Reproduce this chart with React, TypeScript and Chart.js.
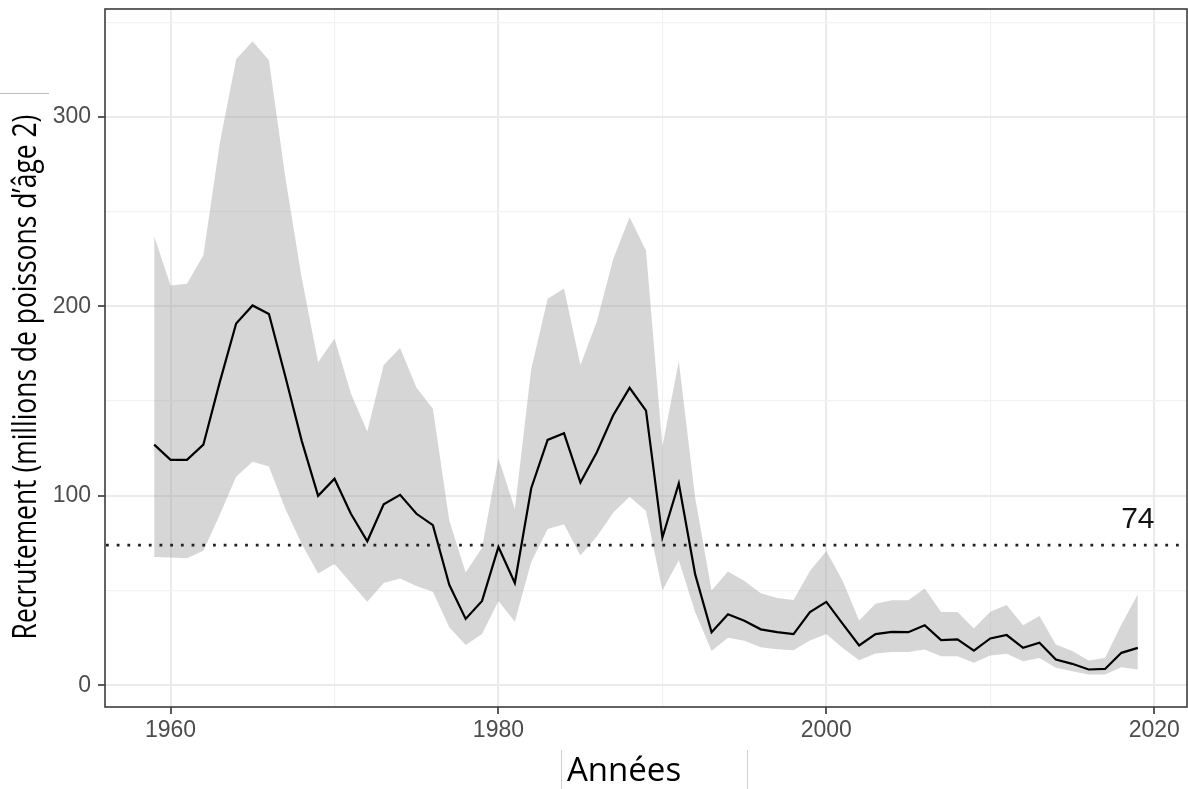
import React, { useEffect, useLayoutEffect, useRef, useState } from "react";
import { Chart, registerables } from "chart.js";

Chart.register(...registerables);

// ---------- Data ----------
const years: number[] = [
  1959, 1960, 1961, 1962, 1963, 1964, 1965, 1966, 1967, 1968,
  1969, 1970, 1971, 1972, 1973, 1974, 1975, 1976, 1977, 1978,
  1979, 1980, 1981, 1982, 1983, 1984, 1985, 1986, 1987, 1988,
  1989, 1990, 1991, 1992, 1993, 1994, 1995, 1996, 1997, 1998,
  1999, 2000, 2001, 2002, 2003, 2004, 2005, 2006, 2007, 2008,
  2009, 2010, 2011, 2012, 2013, 2014, 2015, 2016, 2017, 2018,
  2019,
];

const recruitment: number[] = [
  127, 119, 119, 127, 160, 191, 200.5, 196, 163, 129,
  100, 109, 90.5, 76, 95.5, 100.5, 90.5, 84.5, 53, 35,
  44.5, 73, 54, 104, 129.5, 133, 107, 123, 142.5, 157,
  145, 78, 106.5, 58.5, 28, 37.5, 34, 29.5, 28, 27,
  38.6, 44, 32.4, 21, 27, 28.2, 28, 31.7, 23.8, 24.2,
  18.3, 24.7, 26.5, 19.7, 22.4, 13.6, 11.3, 8.3, 8.6, 17.1,
  19.7,
];

const upper: number[] = [
  237, 211, 212, 227, 286, 330.5, 340, 330, 268, 215,
  170.5, 183, 154, 134, 169, 178, 157, 146, 87, 59.5,
  72.6, 120, 93, 167, 204, 209.5, 169, 192, 225, 247,
  229.5, 126, 171, 99, 50, 60, 55, 48.5, 46, 45,
  60.3, 70.9, 55, 34.2, 43, 44.8, 44.8, 51.1, 38.6, 38.6,
  30, 38.8, 42.3, 31.7, 36.5, 21.5, 18, 13, 14.4, 32,
  48,
];

const lower: number[] = [
  67.7, 67.4, 67, 71, 90, 110, 118, 115.5, 93, 74.5,
  59, 64, 54, 44, 54, 56.3, 52.4, 49.4, 30.6, 21.2,
  27.1, 44.4, 33.5, 65, 82.5, 85, 68.5, 78.5, 91, 99.5,
  92, 50, 66, 38.5, 18, 25, 23.5, 20, 19, 18.5,
  23.6, 27.1, 19.7, 13.2, 16.7, 17.5, 17.6, 18.9, 15.3, 15.3,
  11.8, 15.7, 16.6, 12.7, 14.4, 9.2, 7.4, 5.6, 5.6, 9.5,
  8.3,
];

const referenceLevel = 74;
const xMajorTicks: number[] = [1960, 1980, 2000, 2020];
const xMinorTicks: number[] = [1970, 1990, 2010];
const yMajorTicks: number[] = [0, 100, 200, 300];
const yMinorTicks: number[] = [50, 150, 250, 350];

const xTitle = "Années";
const yTitle = "Recrutement (millions de poissons d’âge 2)";

// ---------- Chart ----------
const W = 1188;
const H = 789;

const pts = (vals: number[]) => years.map((x, i) => ({ x, y: vals[i] }));

const refLinePlugin = {
  id: "refLine",
  afterDatasetsDraw(chart: any) {
    const { ctx, chartArea, scales } = chart;
    const y = scales.y.getPixelForValue(referenceLevel);
    ctx.save();
    ctx.beginPath();
    ctx.rect(chartArea.left, chartArea.top, chartArea.right - chartArea.left, chartArea.bottom - chartArea.top);
    ctx.clip();
    ctx.strokeStyle = "#222222";
    ctx.lineWidth = 2.8;
    ctx.setLineDash([2.8, 7.9]);
    ctx.beginPath();
    ctx.moveTo(chartArea.left + 1, y);
    ctx.lineTo(chartArea.right, y);
    ctx.stroke();
    ctx.setLineDash([]);
    ctx.fillStyle = "#111111";
    ctx.font = "30px 'Liberation Sans', Arial, sans-serif";
    ctx.textAlign = "center";
    ctx.textBaseline = "alphabetic";
    const lx = scales.x.getPixelForValue(years[years.length - 1]);
    ctx.fillText(String(referenceLevel), lx, y - 17);
    ctx.restore();
  },
  afterDraw(chart: any) {
    const { ctx, chartArea } = chart;
    ctx.save();
    ctx.strokeStyle = "#3c3c3c";
    ctx.lineWidth = 1.6;
    ctx.strokeRect(chartArea.left, chartArea.top, chartArea.right - chartArea.left, chartArea.bottom - chartArea.top);
    ctx.restore();
  },
};

const isIn = (arr: number[], v: number) => arr.some((a) => Math.abs(a - v) < 1e-6);

export default function App() {
  const canvasRef = useRef<HTMLCanvasElement>(null);
  const yTitleRef = useRef<HTMLDivElement>(null);
  const [yScaleX, setYScaleX] = useState(1);

  useLayoutEffect(() => {
    document.body.style.margin = "0";
    const el = yTitleRef.current;
    if (el && el.offsetWidth > 0) setYScaleX(525 / el.offsetWidth);
  }, []);

  useEffect(() => {
    if (!canvasRef.current) return;
    const tickFont = { family: "'Liberation Sans', Arial, sans-serif", size: 23 };
    const chart = new Chart(canvasRef.current, {
      type: "line",
      data: {
        datasets: [
          {
            label: "Recrutement",
            data: pts(recruitment),
            borderColor: "#000000",
            borderWidth: 2.2,
            pointRadius: 0,
            fill: false,
            tension: 0,
          },
          {
            label: "lower",
            data: pts(lower),
            borderColor: "rgba(0,0,0,0)",
            borderWidth: 0,
            pointRadius: 0,
            fill: false,
            tension: 0,
          },
          {
            label: "upper",
            data: pts(upper),
            borderColor: "rgba(0,0,0,0)",
            borderWidth: 0,
            pointRadius: 0,
            backgroundColor: "rgba(153,153,153,0.4)",
            fill: "-1",
            tension: 0,
          },
        ],
      },
      options: {
        responsive: false,
        animation: false,
        events: [],
        layout: { padding: { top: 9, right: 1, left: 0, bottom: 0 } },
        plugins: { legend: { display: false }, tooltip: { enabled: false } },
        scales: {
          x: {
            type: "linear",
            min: 1956,
            max: 2022,
            afterFit: (s: any) => {
              s.height = 82;
              s.paddingLeft = 0;
              s.paddingRight = 0;
            },
            afterBuildTicks: (s: any) => {
              s.ticks = [...xMajorTicks, ...xMinorTicks].sort((a, b) => a - b).map((v) => ({ value: v }));
            },
            ticks: {
              autoSkip: false,
              maxRotation: 0,
              color: "#4d4d4d",
              font: tickFont,
              padding: 3,
              callback: (v: any) => (isIn(xMajorTicks, Number(v)) ? String(v) : ""),
            },
            grid: {
              color: (c: any) => (c.tick && isIn(xMajorTicks, c.tick.value) ? "#ebebeb" : "#f2f2f2"),
              lineWidth: (c: any) => (c.tick && isIn(xMajorTicks, c.tick.value) ? 2 : 1.2),
              tickColor: (c: any) => (c.tick && isIn(xMajorTicks, c.tick.value) ? "#333333" : "rgba(0,0,0,0)"),
              tickLength: 7,
              tickWidth: 1.6,
            },
            border: { display: false },
          },
          y: {
            type: "linear",
            min: -11.5,
            max: 357,
            afterFit: (s: any) => {
              s.width = 105;
              s.paddingTop = 0;
              s.paddingBottom = 0;
            },
            afterBuildTicks: (s: any) => {
              s.ticks = [...yMajorTicks, ...yMinorTicks].sort((a, b) => a - b).map((v) => ({ value: v }));
            },
            ticks: {
              autoSkip: false,
              color: "#4d4d4d",
              font: tickFont,
              padding: 7,
              callback: (v: any) => (isIn(yMajorTicks, Number(v)) ? String(v) : ""),
            },
            grid: {
              color: (c: any) => (c.tick && isIn(yMajorTicks, c.tick.value) ? "#ebebeb" : "#f2f2f2"),
              lineWidth: (c: any) => (c.tick && isIn(yMajorTicks, c.tick.value) ? 2 : 1.2),
              tickColor: (c: any) => (c.tick && isIn(yMajorTicks, c.tick.value) ? "#333333" : "rgba(0,0,0,0)"),
              tickLength: 7,
              tickWidth: 1.6,
            },
            border: { display: false },
          },
        },
      },
      plugins: [refLinePlugin],
    } as any);
    return () => chart.destroy();
  }, []);

  return (
    <div style={{ position: "fixed", left: 0, top: 0, width: W, height: H, background: "#ffffff", overflow: "hidden" }}>
      <canvas ref={canvasRef} width={W} height={H} style={{ position: "absolute", left: 0, top: 0, width: W, height: H }} />
      {/* y-axis title */}
      <div
        ref={yTitleRef}
        style={{
          position: "absolute",
          left: 23.6,
          top: 377,
          fontFamily: "'Open Sans', sans-serif",
          fontSize: 32,
          lineHeight: 1,
          whiteSpace: "nowrap",
          color: "#000000",
          transform: `translate(-50%, -50%) rotate(-90deg) scaleX(${yScaleX})`,
        }}
      >
        {yTitle}
      </div>
      {/* x-axis title */}
      <div
        style={{
          position: "absolute",
          left: 567,
          top: 752.4,
          fontFamily: "'Open Sans', sans-serif",
          fontSize: 33,
          lineHeight: 1,
          whiteSpace: "nowrap",
          color: "#000000",
        }}
      >
        {xTitle}
      </div>
      {/* decorative separators from the source screenshot */}
      <div style={{ position: "absolute", left: 561, top: 750, width: 1, height: 39, background: "#d0d0d0" }} />
      <div style={{ position: "absolute", left: 747, top: 750, width: 1, height: 39, background: "#d0d0d0" }} />
      <div style={{ position: "absolute", left: 0, top: 93, width: 49, height: 1, background: "#bdbdbd" }} />
    </div>
  );
}
